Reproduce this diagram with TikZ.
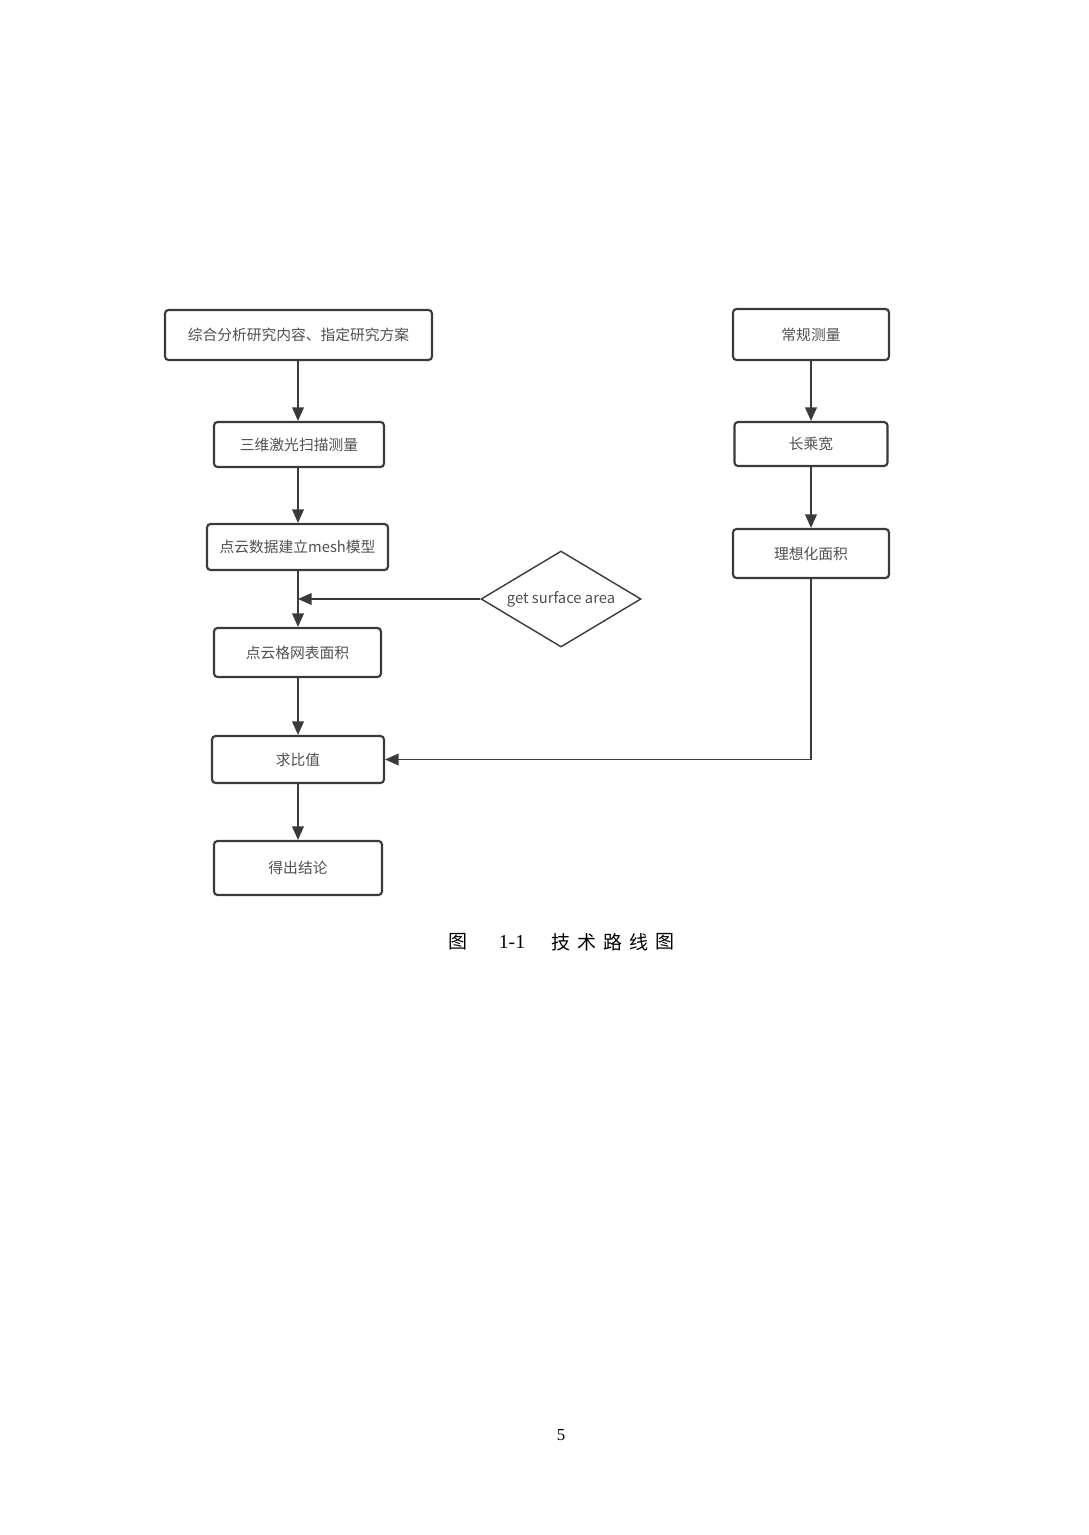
\documentclass[tikz,border=0pt]{standalone}
\usepackage{fontspec}
\setmainfont{Liberation Serif}
\newfontfamily\cjk{Noto Sans CJK SC}
\usetikzlibrary{arrows.meta,shapes.geometric}
\definecolor{linec}{HTML}{3A3A3A}
\definecolor{textc}{HTML}{505050}
\begin{document}
\begin{tikzpicture}[x=0.025cm,y=-0.025cm,
  box/.style={draw=linec,line width=1.5pt,rounded corners=2.5pt,fill=white,
    font=\cjk\fontsize{10.5pt}{12pt}\selectfont,text=textc,inner sep=0pt,anchor=center},
  dia/.style={draw=linec,line width=1pt,diamond,aspect=1.67,inner sep=0pt,
    minimum width=160*0.025cm,minimum height=96*0.025cm,
    font=\cjk\fontsize{10.5pt}{12pt}\selectfont,text=textc},
  arr/.style={draw=linec,line width=1.3pt,-{Triangle[width=0.29cm,length=0.34cm]}},
  captext/.style={font=\cjk\fontsize{13.5pt}{16pt}\selectfont,text=black,inner sep=0pt}
]
\useasboundingbox (0,0) rectangle (1088,1535);
\fill[white] (0,0) rectangle (1088,1535);

\node[box,minimum width=267*0.025cm,minimum height=50*0.025cm] (a1) at (298.5,335) {综合分析研究内容、指定研究方案};
\node[box,minimum width=170*0.025cm,minimum height=45*0.025cm] (a2) at (299,444.5) {三维激光扫描测量};
\node[box,minimum width=181*0.025cm,minimum height=46*0.025cm] (a3) at (297.5,547) {点云数据建立mesh模型};
\node[box,minimum width=167*0.025cm,minimum height=49*0.025cm] (a4) at (297.5,652.5) {点云格网表面积};
\node[box,minimum width=172*0.025cm,minimum height=47*0.025cm] (a5) at (298,759.5) {求比值};
\node[box,minimum width=168*0.025cm,minimum height=54*0.025cm] (a6) at (298,868) {得出结论};

\node[box,minimum width=156*0.025cm,minimum height=51*0.025cm] (b1) at (811,334.5) {常规测量};
\node[box,minimum width=153*0.025cm,minimum height=44*0.025cm] (b2) at (811,444) {长乘宽};
\node[box,minimum width=156*0.025cm,minimum height=49*0.025cm] (b3) at (811,553.5) {理想化面积};

\node[dia] (d) at (561,599) {get surface area};

\coordinate (m) at (298,599);

\draw[arr] (a1.south -| 298,0) -- (a2.north -| 298,0);
\draw[arr] (a2.south -| 298,0) -- (a3.north -| 298,0);
\draw[arr] (a3.south -| 298,0) -- (a4.north -| 298,0);
\draw[arr] (a4.south -| 298,0) -- (a5.north -| 298,0);
\draw[arr] (a5.south -| 298,0) -- (a6.north -| 298,0);
\draw[arr] (d.west) -- (m);

\draw[arr] (b1.south) -- (b2.north);
\draw[arr] (b2.south) -- (b3.north);
\draw[arr] (b3.south) |- (a5.east);

\node[captext] (c0) at (457.5,942) {图};
\node[captext,font=\fontsize{14pt}{16pt}\selectfont] (c1) at (512,942) {1-1};
\node[captext] (c2) at (560.5,942) {技};
\node[captext] (c3) at (586.5,942) {术};
\node[captext] (c4) at (612.5,942) {路};
\node[captext] (c5) at (638.5,942) {线};
\node[captext] (c6) at (664.5,942) {图};

\node[font=\fontsize{12pt}{14pt}\selectfont,inner sep=0pt] (pg) at (561,1435) {5};
\end{tikzpicture}
\end{document}
